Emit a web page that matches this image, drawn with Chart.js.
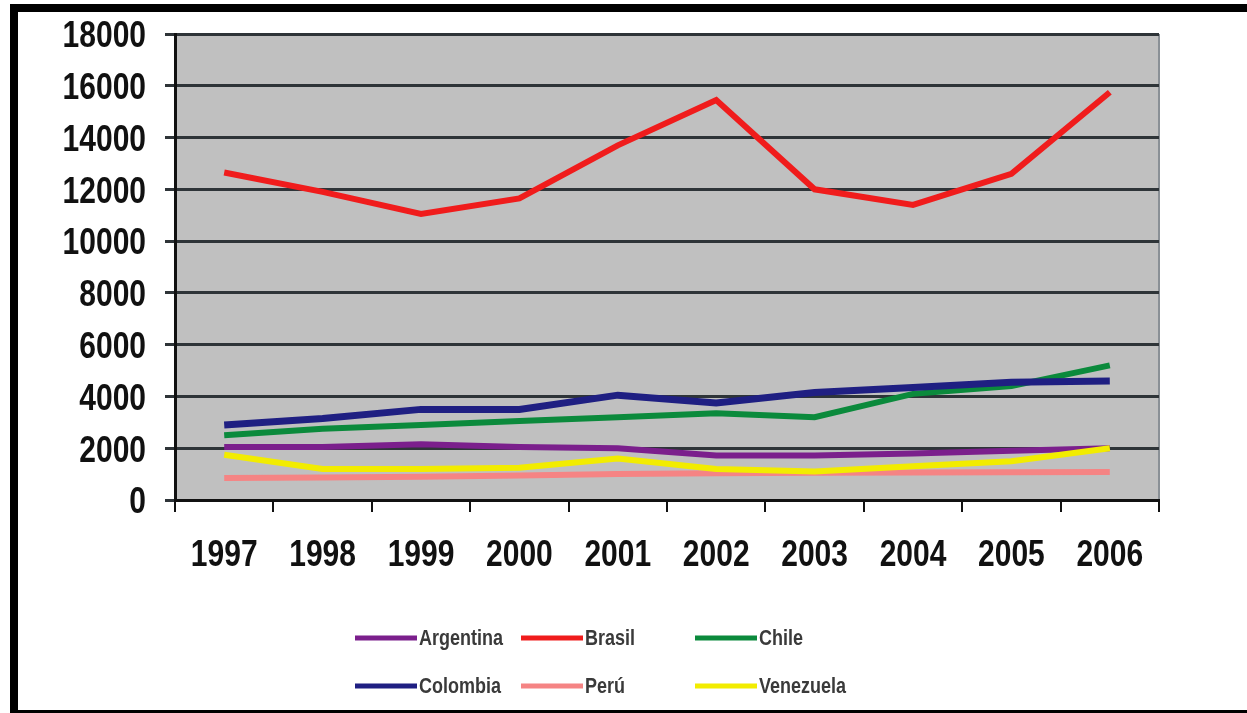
<!DOCTYPE html>
<html>
<head>
<meta charset="utf-8">
<script src="https://cdn.jsdelivr.net/npm/chart.js@4"></script>
<style>
  html, body { margin: 0; padding: 0; background: #fff; overflow: hidden; }
  #wrap { position: relative; width: 1247px; height: 713px; }
  #frame {
    position: absolute; left: 10px; top: 4px; width: 1260px; height: 698px;
    border-top: 8px solid #000; border-left: 8px solid #000; border-bottom: 3px solid #000;
    pointer-events: none;
  }
</style>
</head>
<body>
<div id="wrap">
  <canvas id="chartCanvas" width="1247" height="713"></canvas>
  <div id="frame"></div>
</div>
<script>
const years = ['1997', '1998', '1999', '2000', '2001', '2002', '2003', '2004', '2005', '2006'];
const yTicks = [0, 2000, 4000, 6000, 8000, 10000, 12000, 14000, 16000, 18000];

const argentina = [2050, 2050, 2150, 2050, 2000, 1720, 1720, 1800, 1900, 2000];
const brasil = [12650, 11900, 11050, 11650, 13700, 15450, 12000, 11400, 12600, 15750];
const chile = [2500, 2750, 2900, 3050, 3200, 3350, 3200, 4100, 4400, 5200];
const colombia = [2900, 3150, 3500, 3500, 4050, 3750, 4150, 4350, 4550, 4600];
const peru = [850, 870, 900, 950, 1000, 1030, 1050, 1060, 1070, 1080];
const venezuela = [1750, 1200, 1200, 1250, 1600, 1200, 1100, 1300, 1500, 2000];

const seriesNames = ['Argentina', 'Brasil', 'Chile', 'Colombia', 'Perú', 'Venezuela'];
const seriesData = [argentina, brasil, chile, colombia, peru, venezuela];
const seriesColors = ['#7b1f8c', '#f01c1c', '#0b8a3c', '#1f1f82', '#f58484', '#f2ec00'];
const seriesWidths = [6, 6, 6, 7, 6, 6];

const FONT = '"Liberation Sans", Arial, sans-serif';

// gray plot background
const plotBackground = {
    id: 'plotBackground',
    beforeDraw(chart) {
        const { ctx, chartArea } = chart;
        ctx.save();
        ctx.fillStyle = '#c0c0c0';
        ctx.fillRect(chartArea.left, chartArea.top, chartArea.right - chartArea.left, chartArea.bottom - chartArea.top);
        ctx.strokeStyle = '#8a9096';
        ctx.lineWidth = 2;
        ctx.beginPath();
        ctx.moveTo(chartArea.right, chartArea.top);
        ctx.lineTo(chartArea.right, chartArea.bottom);
        ctx.stroke();
        ctx.restore();
    }
};

// tick labels in the tall, condensed look of the original (stretched vertically)
function tallText(ctx, text, x, y, align) {
    ctx.save();
    ctx.translate(x, y);
    ctx.scale(1, 1.25);
    ctx.textAlign = align;
    ctx.textBaseline = 'middle';
    ctx.fillText(text, 0, 0);
    ctx.restore();
}

const tallTicks = {
    id: 'tallTicks',
    afterDraw(chart) {
        const { ctx } = chart;
        const xs = chart.scales.x;
        const ys = chart.scales.y;
        ctx.save();
        ctx.fillStyle = '#111';
        ctx.font = 'bold 30px ' + FONT;
        xs.ticks.forEach((t, i) => {
            tallText(ctx, xs.getLabelForValue(t.value), xs.getPixelForTick(i), xs.bottom - 24, 'center');
        });
        ys.ticks.forEach(t => {
            tallText(ctx, String(t.value), ys.right - 29, ys.getPixelForValue(t.value) + 3, 'right');
        });
        ctx.restore();
    }
};

// legend laid out as a 3 x 2 grid like the original
const gridLegend = {
    id: 'gridLegend',
    afterDraw(chart) {
        const { ctx } = chart;
        const colX = [355, 521, 695];
        const rowY = [638, 686];
        ctx.save();
        ctx.font = 'bold 18px ' + FONT;
        chart.data.datasets.forEach((ds, i) => {
            const x = colX[i % 3];
            const y = rowY[Math.floor(i / 3)];
            ctx.strokeStyle = ds.borderColor;
            ctx.lineWidth = 5;
            ctx.beginPath();
            ctx.moveTo(x, y);
            ctx.lineTo(x + 62, y);
            ctx.stroke();
            ctx.fillStyle = '#3a3a3a';
            ctx.save();
            ctx.translate(x + 64, y + 1);
            ctx.scale(1, 1.2);
            ctx.textBaseline = 'middle';
            ctx.fillText(ds.label, 0, 0);
            ctx.restore();
        });
        ctx.restore();
    }
};

const ctx = document.getElementById('chartCanvas').getContext('2d');
window.myChart = new Chart(ctx, {
    type: 'line',
    data: {
        labels: years,
        datasets: seriesNames.map((name, i) => ({
            label: name,
            data: seriesData[i],
            borderColor: seriesColors[i],
            backgroundColor: seriesColors[i],
            borderWidth: seriesWidths[i],
            pointRadius: 0,
            tension: 0,
            order: seriesNames.length - i
        }))
    },
    options: {
        responsive: false,
        animation: false,
        layout: { padding: { left: 40, right: 88, top: 34, bottom: 133 } },
        plugins: {
            legend: { display: false },
            tooltip: { enabled: false }
        },
        scales: {
            x: {
                offset: true,
                grid: {
                    offset: true,
                    drawOnChartArea: false,
                    color: '#111',
                    lineWidth: 2,
                    tickLength: 12
                },
                border: { color: '#111', width: 3 },
                ticks: { color: 'rgba(0,0,0,0)', font: { family: FONT, size: 30, weight: 'bold' }, maxRotation: 0 },
                afterFit(scale) { scale.height = 80; }
            },
            y: {
                min: 0,
                max: 18000,
                afterBuildTicks(scale) { scale.ticks = yTicks.map(v => ({ value: v })); },
                grid: {
                    color: '#2e3438',
                    lineWidth: 3,
                    tickLength: 10
                },
                border: { color: '#111', width: 3 },
                ticks: { color: 'rgba(0,0,0,0)', font: { family: FONT, size: 30, weight: 'bold' }, callback: v => String(v) },
                afterFit(scale) { scale.width = 135; }
            }
        }
    },
    plugins: [plotBackground, tallTicks, gridLegend]
});
</script>
</body>
</html>
